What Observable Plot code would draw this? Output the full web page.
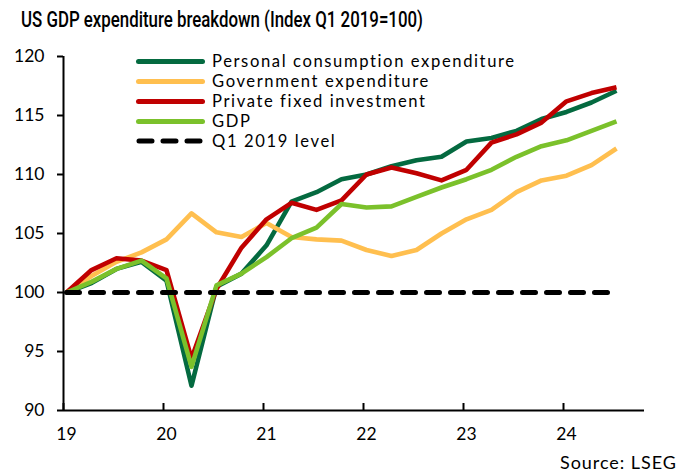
<!DOCTYPE html>
<html>
<head>
<meta charset="utf-8">
<script src="https://cdn.jsdelivr.net/npm/d3@7"></script>
<script src="https://cdn.jsdelivr.net/npm/@observablehq/plot@0.6"></script>
<style>
  body { margin: 0; background: #fff; }
  #wrap { position: relative; width: 680px; height: 475px; font-family: Lato, sans-serif; color: #000; }
  #title { height: 40px; padding-left: 21px; box-sizing: border-box; padding-top: 6px;
           font-family: Roboto, sans-serif; font-weight: 500; font-size: 22.5px; white-space: nowrap; line-height: 1.17; }
  #title span { display: inline-block; transform-origin: 0 0; }
  #legend { position: absolute; left: 136px; top: 51px; }
  .row { display: flex; align-items: center; height: 20px; font-size: 16.6px; line-height: 20px; white-space: nowrap; }
  .sw { width: 69px; height: 5px; border-radius: 3px; margin-right: 7px; }
  #source { position: absolute; right: 3px; top: 451px; font-size: 18px; white-space: nowrap; }
</style>
</head>
<body>
<div id="wrap">
  <div id="title"><span>US GDP expenditure breakdown (Index Q1 2019=100)</span></div>
  <div id="chart"></div>
  <div id="legend"></div>
  <div id="source"><span>Source: LSEG</span></div>
</div>
<script>
const quarters = ["2019Q1","2019Q2","2019Q3","2019Q4","2020Q1","2020Q2","2020Q3","2020Q4",
                  "2021Q1","2021Q2","2021Q3","2021Q4","2022Q1","2022Q2","2022Q3","2022Q4",
                  "2023Q1","2023Q2","2023Q3","2023Q4","2024Q1","2024Q2","2024Q3"];
const pce = [100, 100.8, 102.0, 102.6, 101.0, 92.1, 100.5, 101.6, 104.0, 107.7, 108.5, 109.6,
             110.0, 110.7, 111.2, 111.5, 112.8, 113.1, 113.7, 114.7, 115.3, 116.1, 117.1];
const gov = [100, 101.4, 102.6, 103.4, 104.5, 106.7, 105.1, 104.7, 105.9, 104.7, 104.5, 104.4,
             103.6, 103.1, 103.6, 105.0, 106.2, 107.0, 108.5, 109.5, 109.9, 110.8, 112.2];
const pfi = [100, 101.9, 102.9, 102.7, 101.9, 94.4, 100.3, 103.8, 106.2, 107.6, 107.0, 107.8,
             110.0, 110.6, 110.1, 109.5, 110.4, 112.7, 113.4, 114.4, 116.2, 116.9, 117.4];
const gdp = [100, 100.9, 102.0, 102.7, 101.2, 93.7, 100.6, 101.6, 103.0, 104.6, 105.5, 107.5,
             107.2, 107.3, 108.1, 108.9, 109.6, 110.4, 111.5, 112.4, 112.9, 113.7, 114.5];
const baseline = quarters.map(() => 100);
const seriesNames = ["Personal consumption expenditure", "Government expenditure",
                     "Private fixed investment", "GDP", "Q1 2019 level"];
const seriesColors = ["#046a40", "#ffbf4f", "#c00000", "#7bc12b", "#000000"];
const yTicks = [90, 95, 100, 105, 110, 115, 120];
const xTicks = [2019, 2020, 2021, 2022, 2023, 2024];

const qOffset = 0.03;
const qx = q => +q.slice(0, 4) + (+q.slice(5) - 1) / 4 + qOffset;
const toRows = (vals) => quarters.map((q, i) => ({x: qx(q), y: vals[i]}));
const seriesVals = [pce, gov, pfi, gdp];

const lineMarks = seriesVals.map((vals, k) =>
  Plot.lineY(toRows(vals), {x: "x", y: "y", stroke: seriesColors[k], strokeWidth: 4.6,
    strokeLinejoin: "round", strokeLinecap: "butt"}));

const chart = Plot.plot({
  width: 680, height: 410,
  marginTop: 16, marginBottom: 40, marginLeft: 63, marginRight: 36,
  style: {fontFamily: "Lato, sans-serif", fontSize: "17.5px", color: "#000", background: "#fff"},
  x: {domain: [2019, 2024.81], label: null},
  y: {domain: [90, 120], label: null},
  marks: [
    Plot.axisY({ticks: yTicks, tickSize: 6, tickPadding: 13, strokeWidth: 2, label: null, fontSize: 17.5}),
    Plot.axisX({ticks: xTicks, tickSize: 0, tickPadding: 17, dx: 3, label: null, fontSize: 17.5,
                tickFormat: d => String(d).slice(2)}),
    Plot.ruleX(xTicks, {x: d => d, y1: 90, y2: 90, insetTop: -7, stroke: "#000", strokeWidth: 2}),
    ...lineMarks,
    Plot.lineY(toRows(baseline), {x: "x", y: "y", stroke: seriesColors[4], strokeWidth: 5,
      strokeDasharray: "13,11", strokeLinecap: "round"}),
    Plot.ruleY([90], {stroke: "#000", strokeWidth: 2}),
    Plot.ruleX([2019], {stroke: "#000", strokeWidth: 2})
  ]
});
document.getElementById("chart").appendChild(chart);

const legend = document.getElementById("legend");
const legendSpans = [];
seriesNames.forEach((name, k) => {
  const row = document.createElement("div");
  row.className = "row";
  let sw;
  if (k === 4) {
    sw = document.createElementNS("http://www.w3.org/2000/svg", "svg");
    sw.setAttribute("width", 69); sw.setAttribute("height", 8);
    sw.style.marginRight = "7px";
    sw.innerHTML = '<line x1="3" x2="66" y1="4" y2="4" stroke="#000" stroke-width="5" stroke-dasharray="13 11" stroke-linecap="round"/>';
  } else {
    sw = document.createElement("div");
    sw.className = "sw";
    sw.style.background = seriesColors[k];
  }
  row.appendChild(sw);
  const t = document.createElement("span");
  t.textContent = name;
  row.appendChild(t);
  legend.appendChild(row);
  legendSpans.push(t);
});

// widen legend text to the reference's wider typeface (first row ≈ 304px)
const s0 = legendSpans[0];
const w0 = s0.getBoundingClientRect().width;
const ls = (304 - w0) / s0.textContent.length;
legendSpans.forEach(s => s.style.letterSpacing = ls + "px");

const src = document.querySelector("#source span");
const ws = src.getBoundingClientRect().width;
src.style.letterSpacing = ((117 - ws) / src.textContent.length) + "px";

// fit title width to reference (~402px)
const ts = document.querySelector("#title span");
const w = ts.getBoundingClientRect().width;
ts.style.transform = `scaleX(${402 / w})`;
</script>
</body>
</html>
